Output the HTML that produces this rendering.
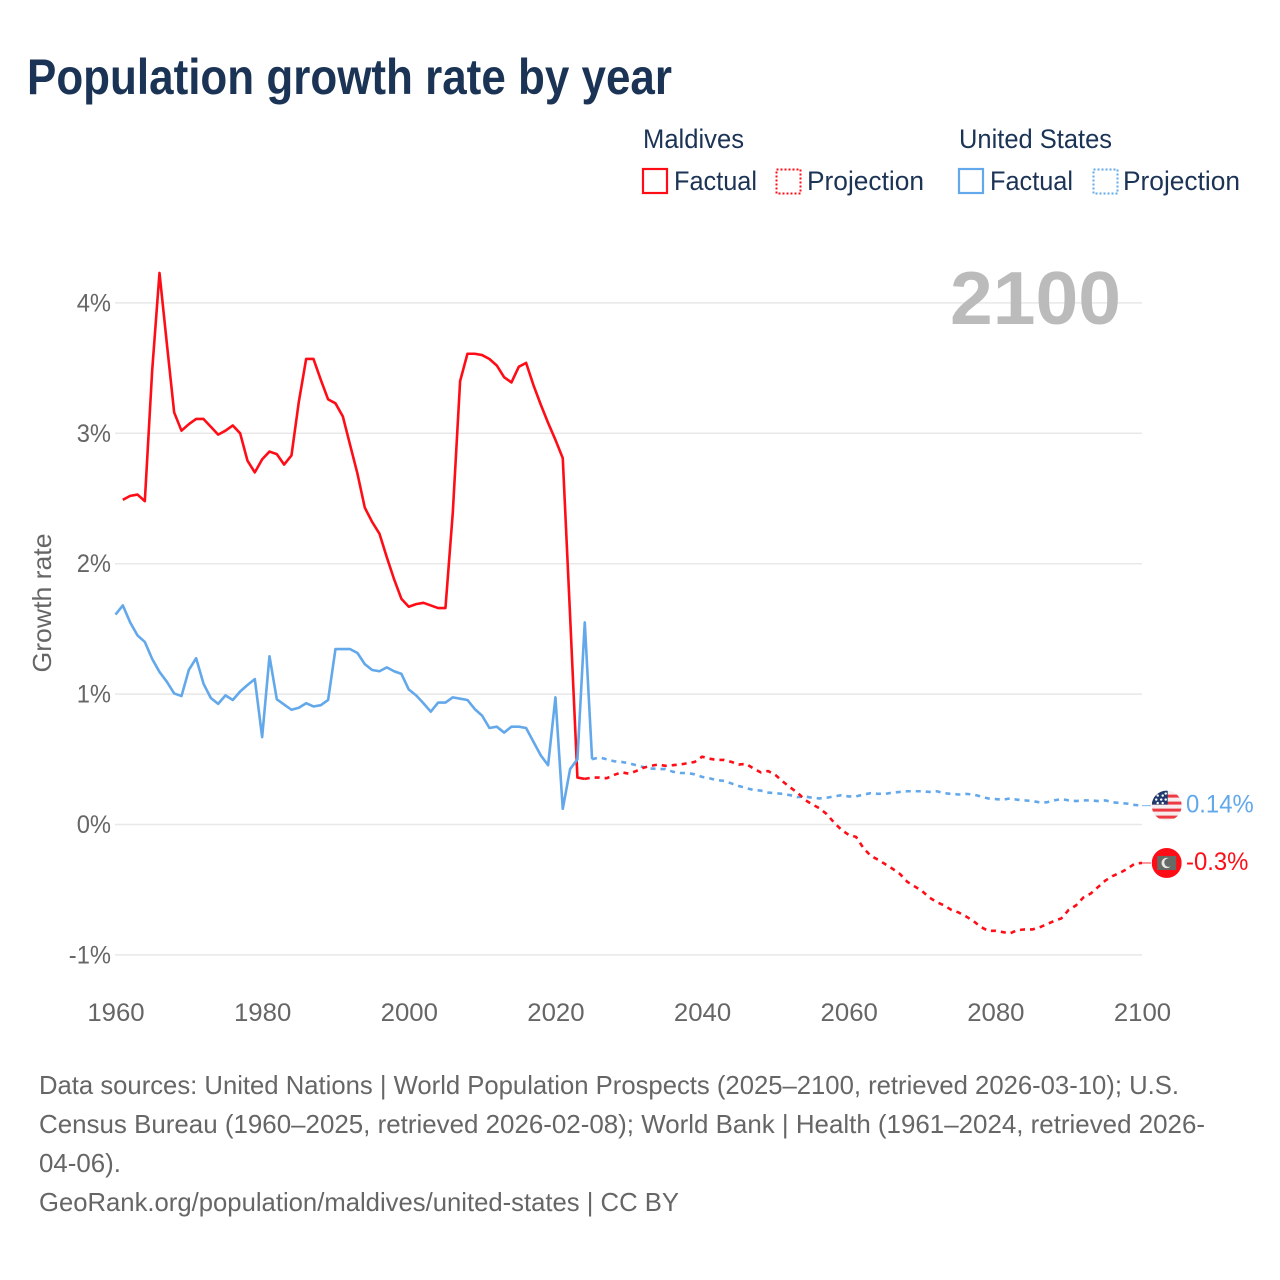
<!DOCTYPE html>
<html lang="en">
<head>
<meta charset="utf-8">
<title>Population growth rate by year</title>
<style>
html,body{margin:0;padding:0;background:#fff;width:1280px;height:1280px;overflow:hidden}
svg{display:block}
text{font-family:"Liberation Sans",sans-serif}
.lg{font-size:27px;fill:#1b3354}
.ft{font-size:26px;fill:#666}
.tick{font-size:25px;fill:#666}
</style>
</head>
<body>
<svg id="chart" width="1280" height="1280" viewBox="0 0 1280 1280" xmlns="http://www.w3.org/2000/svg">
  <rect x="0" y="0" width="1280" height="1280" fill="#fff"/>
  <text x="27" y="94" font-size="50" font-weight="700" fill="#1b3354" textLength="645" lengthAdjust="spacingAndGlyphs">Population growth rate by year</text>

  <g>
    <text class="lg" x="643" y="148" textLength="101" lengthAdjust="spacingAndGlyphs">Maldives</text>
    <text class="lg" x="959" y="148" textLength="153" lengthAdjust="spacingAndGlyphs">United States</text>
    <rect x="643" y="169" width="24" height="24" fill="none" stroke="#ff0d17" stroke-width="2.2"/>
    <text class="lg" x="674" y="190" textLength="83" lengthAdjust="spacingAndGlyphs">Factual</text>
    <rect x="776.5" y="169.5" width="24" height="24" fill="none" stroke="#ff0d17" stroke-width="2" stroke-dasharray="2 2"/>
    <text class="lg" x="807" y="190" textLength="117" lengthAdjust="spacingAndGlyphs">Projection</text>
    <rect x="959" y="169" width="24" height="24" fill="none" stroke="#62a8ea" stroke-width="2.2"/>
    <text class="lg" x="990" y="190" textLength="83" lengthAdjust="spacingAndGlyphs">Factual</text>
    <rect x="1093.5" y="169.5" width="24" height="24" fill="none" stroke="#62a8ea" stroke-width="2" stroke-dasharray="2 2"/>
    <text class="lg" x="1123" y="190" textLength="117" lengthAdjust="spacingAndGlyphs">Projection</text>
  </g>

  <g id="grid"></g>
  <g id="yticks"></g>
  <g id="xticks"></g>

  <text x="0" y="0" transform="translate(51,603) rotate(-90)" text-anchor="middle" font-size="26" fill="#666" textLength="139" lengthAdjust="spacingAndGlyphs">Growth rate</text>
  <text x="950" y="324" font-size="75" font-weight="700" fill="#bbb" textLength="171" lengthAdjust="spacingAndGlyphs">2100</text>

  <g id="series"></g>

  <defs>
    <clipPath id="flagClip"><circle cx="0" cy="0" r="15"/></clipPath>
  </defs>
  <g id="flag-us">
    <g clip-path="url(#flagClip)">
      <rect x="-15" y="-15" width="30" height="30" fill="#f6eeee"/>
      <rect x="-15" y="-11" width="30" height="3" fill="#ee3a42"/>
      <rect x="-15" y="-4" width="30" height="3" fill="#ee3a42"/>
      <rect x="-15" y="3" width="30" height="3" fill="#ee3a42"/>
      <rect x="-15" y="10" width="30" height="3" fill="#ee3a42"/>
      <rect x="-15" y="-15" width="16" height="14" fill="#1f3a6b"/>
      <circle cx="-9" cy="-10" r="1.2" fill="#fff"/>
      <circle cx="-4" cy="-10" r="1.2" fill="#fff"/>
      <circle cx="-10.5" cy="-6" r="1.2" fill="#fff"/>
      <circle cx="-5.5" cy="-6" r="1.2" fill="#fff"/>
      <circle cx="-1" cy="-6" r="1.2" fill="#fff"/>
      <circle cx="-9" cy="-2.5" r="1.2" fill="#fff"/>
      <circle cx="-4" cy="-2.5" r="1.2" fill="#fff"/>
      <circle cx="-1" cy="-12" r="1.2" fill="#fff"/>
    </g>
  </g>
  <g id="flag-mv">
    <g clip-path="url(#flagClip)">
      <rect x="-15" y="-15" width="30" height="30" fill="#ff0d17"/>
      <rect x="-9.5" y="-7" width="19" height="14" fill="#666b66"/>
      <circle cx="0" cy="0" r="5.2" fill="#e8e8e8"/>
      <circle cx="2" cy="-0.5" r="4.4" fill="#666b66"/>
    </g>
  </g>
  <g id="endlabels"></g>

  <g>
    <text class="ft" x="39" y="1094" textLength="1140" lengthAdjust="spacingAndGlyphs">Data sources: United Nations | World Population Prospects (2025–2100, retrieved 2026-03-10); U.S.</text>
    <text class="ft" x="39" y="1133" textLength="1166" lengthAdjust="spacingAndGlyphs">Census Bureau (1960–2025, retrieved 2026-02-08); World Bank | Health (1961–2024, retrieved 2026-</text>
    <text class="ft" x="39" y="1172" textLength="82" lengthAdjust="spacingAndGlyphs">04-06).</text>
    <text class="ft" x="39" y="1211" textLength="640" lengthAdjust="spacingAndGlyphs">GeoRank.org/population/maldives/united-states | CC BY</text>
  </g>
</svg>

<script>
const xTickLabels = [1960, 1980, 2000, 2020, 2040, 2060, 2080, 2100];
const yTickValues = [-1, 0, 1, 2, 3, 4];

const maldivesFactualStart = 1961;
const maldivesFactual = [2.49,2.52,2.53,2.48,3.48,4.23,3.69,3.16,3.02,3.07,3.11,3.11,3.05,2.99,3.02,3.06,3.0,2.79,2.70,2.80,2.86,2.84,2.76,2.83,3.24,3.57,3.57,3.41,3.26,3.23,3.13,2.91,2.69,2.43,2.32,2.23,2.05,1.88,1.73,1.67,1.69,1.70,1.68,1.66,1.66,2.39,3.40,3.61,3.61,3.60,3.57,3.52,3.43,3.39,3.51,3.54,3.37,3.22,3.08,2.95,2.81,1.6,0.36,0.35];

const maldivesProjectionStart = 2024;
const maldivesProjection = [0.35,0.36,0.36,0.355,0.38,0.40,0.39,0.41,0.435,0.45,0.46,0.45,0.455,0.46,0.47,0.48,0.52,0.505,0.495,0.495,0.48,0.46,0.465,0.43,0.40,0.41,0.38,0.33,0.285,0.245,0.19,0.155,0.125,0.08,0.015,-0.04,-0.08,-0.095,-0.18,-0.24,-0.27,-0.305,-0.34,-0.38,-0.44,-0.475,-0.51,-0.56,-0.595,-0.62,-0.655,-0.675,-0.705,-0.74,-0.785,-0.815,-0.815,-0.825,-0.835,-0.81,-0.805,-0.805,-0.79,-0.765,-0.74,-0.72,-0.655,-0.62,-0.56,-0.53,-0.48,-0.43,-0.395,-0.37,-0.34,-0.30,-0.295];

const usFactualStart = 1960;
const usFactual = [1.61,1.68,1.55,1.45,1.40,1.27,1.17,1.095,1.005,0.985,1.185,1.275,1.08,0.97,0.925,0.99,0.955,1.02,1.07,1.115,0.67,1.29,0.96,0.92,0.88,0.895,0.93,0.905,0.915,0.955,1.345,1.345,1.345,1.315,1.23,1.185,1.175,1.205,1.175,1.155,1.035,0.99,0.93,0.865,0.935,0.935,0.975,0.965,0.955,0.885,0.835,0.74,0.75,0.705,0.75,0.75,0.74,0.635,0.53,0.455,0.975,0.12,0.425,0.50,1.55,0.50];

const usProjectionStart = 2025;
const usProjection = [0.50,0.515,0.50,0.485,0.48,0.47,0.455,0.44,0.43,0.425,0.425,0.405,0.395,0.395,0.385,0.365,0.355,0.34,0.335,0.315,0.295,0.28,0.265,0.26,0.245,0.24,0.235,0.225,0.21,0.215,0.205,0.20,0.205,0.215,0.225,0.215,0.215,0.23,0.24,0.235,0.235,0.245,0.25,0.255,0.255,0.255,0.25,0.255,0.24,0.235,0.23,0.235,0.23,0.215,0.20,0.195,0.19,0.20,0.19,0.185,0.18,0.17,0.17,0.185,0.195,0.185,0.18,0.185,0.185,0.18,0.185,0.17,0.165,0.16,0.15,0.145];

const endLabelUS = "0.14%";
const endLabelMaldives = "-0.3%";

const SVGNS = "http://www.w3.org/2000/svg";
const RED = "#ff0d17";
const BLUE = "#62a8ea";

function xScale(year) { return 115.5 + (year - 1960) * (1142 - 115.5) / 140; }
function yScale(v) { return 824.5 - v * 130.4; }

function make(tag, parentId) {
  const el = document.createElementNS(SVGNS, tag);
  document.getElementById(parentId).appendChild(el);
  return el;
}

function fitWidth(el, factor) {
  el.setAttribute("textLength", (el.getComputedTextLength() * factor).toFixed(1));
  el.setAttribute("lengthAdjust", "spacingAndGlyphs");
}

function drawLine(values, startYear, color, dashed) {
  const el = make("path", "series");
  const d = values.map(function (v, i) {
    return (i ? "L" : "M") + xScale(startYear + i).toFixed(2) + " " + yScale(v).toFixed(2);
  }).join(" ");
  el.setAttribute("d", d);
  el.setAttribute("fill", "none");
  el.setAttribute("stroke", color);
  el.setAttribute("stroke-width", "2.6");
  el.setAttribute("stroke-linejoin", "round");
  if (dashed) el.setAttribute("stroke-dasharray", "5 5");
  return el;
}

yTickValues.forEach(function (v) {
  const line = make("line", "grid");
  
  
  line.setAttribute("x1", 115);
  line.setAttribute("x2", 1142);
  line.setAttribute("y1", yScale(v));
  line.setAttribute("y2", yScale(v));
  line.setAttribute("stroke", "#e8e8e8");
  line.setAttribute("stroke-width", "1.5");

  const label = make("text", "yticks");
  
  
  label.setAttribute("class", "tick");
  label.setAttribute("x", 111);
  label.setAttribute("y", yScale(v) + 8.5);
  label.setAttribute("text-anchor", "end");
  label.textContent = v + "%";
  fitWidth(label, 0.95);
});

xTickLabels.forEach(function (yr) {
  const label = make("text", "xticks");
  
  
  label.setAttribute("class", "tick");
  label.setAttribute("x", xScale(yr) + 0.5);
  label.setAttribute("y", 1021);
  label.setAttribute("text-anchor", "middle");
  label.textContent = yr;
  fitWidth(label, 1.03);
});

const lineMF = drawLine(maldivesFactual, maldivesFactualStart, RED, false);



const lineUF = drawLine(usFactual, usFactualStart, BLUE, false);



const lineUP = drawLine(usProjection, usProjectionStart, BLUE, true);



const lineMP = drawLine(maldivesProjection, maldivesProjectionStart, RED, true);



function placeEnd(flagId, lastValue, color, text, nameA, nameB) {
  const y = yScale(lastValue);
  const x2100 = xScale(2100);
  document.getElementById(flagId).setAttribute("transform", "translate(" + (x2100 + 24.7) + "," + y + ")");
  const lead = make("line", "endlabels");
  
  
  lead.setAttribute("x1", x2100);
  lead.setAttribute("x2", x2100 + 9);
  lead.setAttribute("y1", y);
  lead.setAttribute("y2", y);
  lead.setAttribute("stroke", color);
  lead.setAttribute("stroke-width", "1.2");
  lead.setAttribute("opacity", "0.7");
  const t = make("text", "endlabels");
  
  
  t.setAttribute("x", x2100 + 44);
  t.setAttribute("y", y + 7);
  t.setAttribute("font-size", "25");
  t.setAttribute("fill", color);
  t.textContent = text;
  fitWidth(t, 0.955);
}
placeEnd("flag-us", usProjection[usProjection.length - 1], BLUE, endLabelUS, "united-states-leader-line", "united-states-end-label");
placeEnd("flag-mv", maldivesProjection[maldivesProjection.length - 1], RED, endLabelMaldives, "maldives-leader-line", "maldives-end-label");
</script>
</body>
</html>
